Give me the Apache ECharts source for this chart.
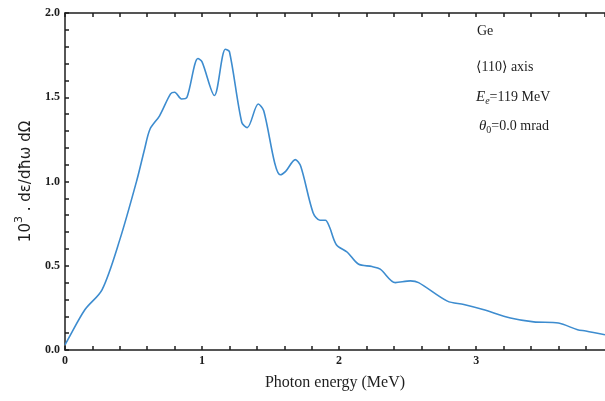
<!DOCTYPE html>
<html>
<head>
<meta charset="utf-8">
<script src="https://cdn.jsdelivr.net/npm/echarts@6/dist/echarts.min.js"></script>
<style>
  html, body { margin: 0; padding: 0; background: #fff; }
  #chart { width: 605px; height: 401px; }
</style>
</head>
<body>
<div id="chart"></div>
<script>
// photon energy (MeV) and spectrum 10^3 de/dhw dOmega
var energy = [0.0, 0.02, 0.146, 0.27, 0.40, 0.525, 0.58, 0.62, 0.69, 0.77, 0.80, 0.85, 0.89, 0.97, 1.0,
  1.09, 1.17, 1.20, 1.29, 1.33, 1.41, 1.45, 1.53, 1.57, 1.61, 1.68, 1.72, 1.81, 1.86, 1.90, 1.93,
  1.98, 2.06, 2.14, 2.24, 2.30, 2.41, 2.52, 2.58, 2.79, 2.91, 3.05, 3.25, 3.42, 3.60, 3.74, 3.80, 3.94];
var spectrum = [0.03, 0.06, 0.24, 0.357, 0.655, 1.01, 1.19, 1.31, 1.39, 1.52, 1.53, 1.49, 1.50, 1.73, 1.71,
  1.51, 1.785, 1.77, 1.35, 1.32, 1.46, 1.42, 1.11, 1.04, 1.06, 1.13, 1.09, 0.815, 0.77, 0.77, 0.73,
  0.625, 0.58, 0.51, 0.495, 0.48, 0.40, 0.41, 0.40, 0.29, 0.27, 0.24, 0.19, 0.167, 0.16, 0.12, 0.113, 0.09];

var pts = [];
for (var i = 0; i < energy.length; i++) {
  pts.push([energy[i], spectrum[i]]);
}

var myChart = echarts.init(document.getElementById('chart'));
var serif = '"Liberation Serif", "DejaVu Serif", serif';
var sans = '"DejaVu Sans", sans-serif';
var ink = '#1e1e1e';

function xLab(v) {
  return Math.abs(v - Math.round(v)) < 1e-6 ? String(Math.round(v)) : '';
}
function yLab(v) {
  return Math.abs(v * 2 - Math.round(v * 2)) < 1e-6 ? v.toFixed(1) : '';
}

var option = {
  animation: false,
  backgroundColor: '#fff',
  grid: { left: 65, right: 0, top: 13, bottom: 51 },
  xAxis: [{
    type: 'value',
    min: 0, max: 3.94, interval: 0.2,
    name: 'Photon energy (MeV)',
    nameLocation: 'middle',
    nameGap: 25,
    nameTextStyle: { fontFamily: serif, fontSize: 16, color: ink },
    axisLine: { lineStyle: { color: ink, width: 1.5 } },
    axisTick: { inside: true, length: 4, lineStyle: { color: ink, width: 1.5 } },
    axisLabel: { formatter: xLab, showMaxLabel: false, fontFamily: serif, fontWeight: 'bold', fontSize: 12, color: ink, margin: 5 },
    splitLine: { show: false }
  }, {
    type: 'value', position: 'top',
    min: 0, max: 3.94, interval: 0.2,
    axisLine: { lineStyle: { color: ink, width: 1.5 } },
    axisTick: { inside: true, length: 4, lineStyle: { color: ink, width: 1.5 } },
    axisLabel: { show: false },
    splitLine: { show: false }
  }],
  yAxis: {
    type: 'value',
    min: 0, max: 2, interval: 0.1,
    name: '{n|10}{sup|3}{n| . d\u03b5/d\u0127\u03c9 d\u03a9}',
    nameLocation: 'middle',
    nameGap: 31,
    nameTextStyle: {
      fontFamily: sans, fontSize: 15, color: ink,
      rich: {
        n: { fontFamily: sans, fontSize: 15, color: ink, verticalAlign: 'bottom' },
        sup: { fontFamily: sans, fontSize: 11, color: ink, verticalAlign: 'top', padding: [0, 0, 9, 0] }
      }
    },
    axisLine: { lineStyle: { color: ink, width: 1.5 } },
    axisTick: { inside: true, length: 4, lineStyle: { color: ink, width: 1.5 } },
    axisLabel: { formatter: yLab, showMaxLabel: true, fontFamily: serif, fontWeight: 'bold', fontSize: 12, color: ink, margin: 5 },
    splitLine: { show: false }
  },
  graphic: [
    { type: 'text', left: 477, top: 24, style: { text: 'Ge', font: '14px ' + serif, fill: ink } },
    { type: 'text', left: 476, top: 60, style: { text: '\u27e8110\u27e9 axis', font: '14px ' + serif, fill: ink } },
    { type: 'text', left: 476, top: 90, style: {
        text: '{i|E}{s|e}{n|=119 MeV}',
        rich: {
          i: { fontFamily: serif, fontSize: 15, fontStyle: 'italic', fill: ink },
          s: { fontFamily: serif, fontSize: 10, fontStyle: 'italic', fill: ink, padding: [8, 0, 0, 0] },
          n: { fontFamily: serif, fontSize: 14, fill: ink }
        } } },
    { type: 'text', left: 479, top: 119, style: {
        text: '{i|\u03b8}{s|0}{n|=0.0 mrad}',
        rich: {
          i: { fontFamily: serif, fontSize: 15, fontStyle: 'italic', fill: ink },
          s: { fontFamily: serif, fontSize: 10, fill: ink, padding: [8, 0, 0, 0] },
          n: { fontFamily: serif, fontSize: 14, fill: ink }
        } } }
  ],
  series: [{
    type: 'line',
    data: pts,
    smooth: 0.3,
    showSymbol: false,
    lineStyle: { color: '#3d8ccf', width: 1.6 }
  }]
};

myChart.setOption(option);
</script>
</body>
</html>
